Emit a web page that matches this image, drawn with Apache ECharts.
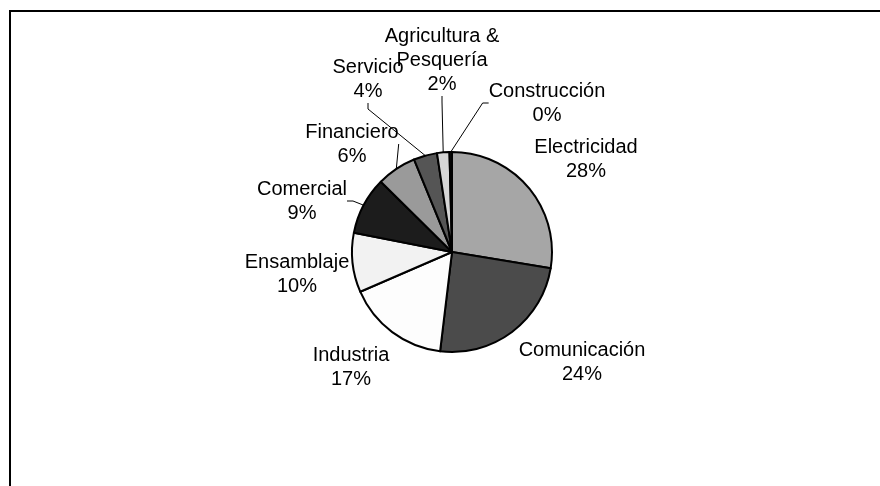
<!DOCTYPE html>
<html>
<head>
<meta charset="utf-8">
<script src="https://cdn.jsdelivr.net/npm/echarts@6/dist/echarts.min.js"></script>
<style>
    html, body { margin: 0; padding: 0; background: #fff; }
    #chart { width: 880px; height: 486px; }
</style>
</head>
<body>
<div id="chart"></div>
<script>
// sectors, clockwise from 12 o'clock
const sectors = ['Electricidad', 'Comunicación', 'Industria', 'Ensamblaje', 'Comercial',
    'Financiero', 'Servicio', 'Agricultura &\nPesquería', 'Construcción'];
const shares = [27.6, 24.3, 16.6, 9.6, 9.3, 6.4, 3.8, 2.0, 0.4];

const fills = ['#a6a6a6', '#4b4b4b', '#fdfdfd', '#f2f2f2', '#1c1c1c',
    '#9a9a9a', '#555555', '#d6d6d6', '#111111'];
// label block centres, same order as sectors
const labelPos = [[586, 159], [582, 362], [351, 367], [297, 274], [302, 201],
    [352, 144], [368, 79], [442, 60], [547, 103]];
const hasLeader = [false, false, false, false, true, true, true, true, true];

document.addEventListener("DOMContentLoaded", function () {
    let chart = echarts.init(document.getElementById('chart'), null, { renderer: 'canvas' });

    let option = {
        animation: false,
        backgroundColor: '#fff',
        textStyle: { fontFamily: 'Liberation Sans, Arial, sans-serif' },
        graphic: [
            {
                type: 'polyline',
                shape: { points: [[10, 486], [10, 11], [880, 11]] },
                style: { stroke: '#000', lineWidth: 2, fill: null },
                silent: true,
            },
        ],
        series: [
            {
                type: 'pie',
                center: [452, 252],
                radius: 100,
                startAngle: 90,
                clockwise: true,
                percentPrecision: 0,
                avoidLabelOverlap: false,
                minAngle: 0,
                itemStyle: { borderColor: '#000', borderWidth: 2 },
                label: {
                    show: true,
                    position: 'outside',
                    formatter: '{b}\n{d}%',
                    color: '#000',
                    fontSize: 20,
                    lineHeight: 24,
                    align: 'center',
                    fontFamily: 'Liberation Sans, Arial, sans-serif',
                },
                labelLine: {
                    show: true,
                    length: 6,
                    length2: 6,
                    lineStyle: { color: '#000', width: 1 },
                },
                labelLayout: function (params) {
                    let p = labelPos[params.dataIndex];
                    return { x: p[0], y: p[1], align: 'center', verticalAlign: 'middle' };
                },
                data: sectors.map((name, i) => ({
                    name: name,
                    value: shares[i],
                    itemStyle: { color: fills[i] },
                    labelLine: { show: hasLeader[i] },
                })),
            },
        ],
    };
    chart.setOption(option);
});
</script>
</body>
</html>
